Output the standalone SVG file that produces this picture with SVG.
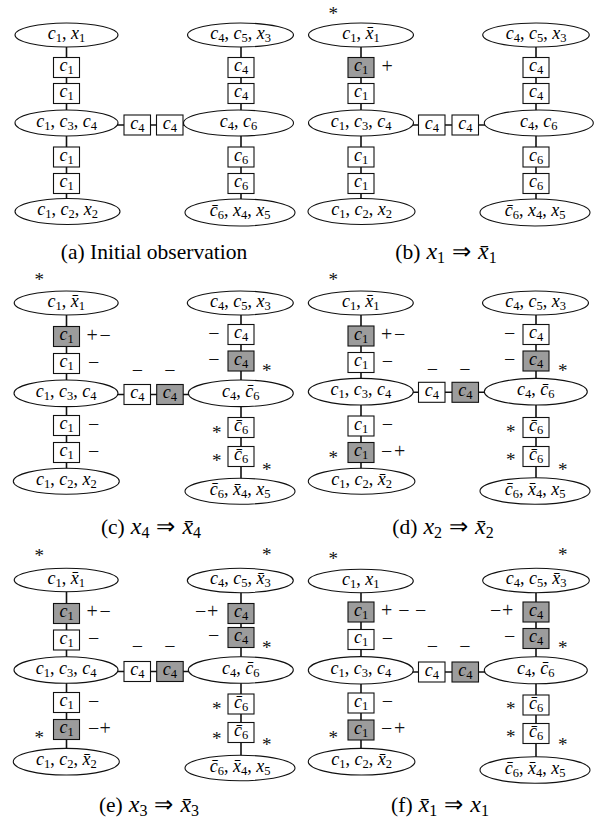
<svg xmlns="http://www.w3.org/2000/svg" width="599" height="820" viewBox="0 0 599 820">
<style>
.bg{fill:#fff}
.el{fill:#fff;stroke:#111;stroke-width:1.1}
.bx{fill:#fff;stroke:#111;stroke-width:1.1}
.g{fill:#9c9c9c}
.cn path{stroke:#111;stroke-width:1.6;fill:none}
.lb{font-family:'Liberation Serif',serif;font-size:18px;text-anchor:middle;fill:#000}
.i{font-style:italic}
.s{font-size:12.5px;font-style:normal}
.sg{font-family:'Liberation Serif',serif;font-size:20px;fill:#111}
.sm{font-family:'Liberation Serif',serif;font-size:20px;fill:#111;text-anchor:middle}
.as{font-family:'Liberation Serif',serif;font-size:19px;fill:#111;text-anchor:middle}
.cap{font-family:'Liberation Serif',serif;font-size:21.5px;text-anchor:middle;fill:#000}
.cm{font-size:24px;font-style:italic}
.ca{font-size:23px}
.cs{font-size:16px;font-style:normal}
</style>
<rect class="bg" x="0" y="0" width="599" height="820"/>

<g id="connectors" class="cn">
<g id="a-conn">
<path d="M66.5 35V67.5"/><path d="M66.5 67.5V93.5"/><path d="M66.5 93.5V123"/><path d="M66.5 123V157"/><path d="M66.5 157V183.5"/><path d="M66.5 183.5V211.5"/>
<path d="M66.5 125H137.25"/><path d="M137.25 125H169.75"/><path d="M169.75 125H238.5"/>
<path d="M241 35V67.5"/><path d="M241 67.5V93.5"/><path d="M241 93.5V123"/><path d="M241 123V157"/><path d="M241 157V183.5"/><path d="M241 183.5V212.5"/>
</g>
<g id="b-conn">
<path d="M361 35V67.5"/><path d="M361 67.5V93.5"/><path d="M361 93.5V123"/><path d="M361 123V157"/><path d="M361 157V183.5"/><path d="M361 183.5V211.5"/>
<path d="M361 125H431.75"/><path d="M431.75 125H465.25"/><path d="M465.25 125H538.8"/>
<path d="M536 35V67.5"/><path d="M536 67.5V93.5"/><path d="M536 93.5V123"/><path d="M536 123V157"/><path d="M536 157V183.5"/><path d="M536 183.5V212.5"/>
</g>
<g id="c-conn">
<path d="M66.5 303V336.5"/><path d="M66.5 336.5V363.5"/><path d="M66.5 363.5V393.3"/><path d="M66.5 393.3V425.5"/><path d="M66.5 425.5V452.5"/><path d="M66.5 452.5V481.3"/>
<path d="M66.5 394.5H137.25"/><path d="M137.25 394.5H169.95"/><path d="M169.95 394.5H240.8"/>
<path d="M241 303V334.5"/><path d="M241 334.5V361"/><path d="M241 361V393.3"/><path d="M241 393.3V427.5"/><path d="M241 427.5V456.5"/><path d="M241 456.5V491.3"/>
</g>
<g id="d-conn">
<path d="M361 303V336"/><path d="M361 336V362.5"/><path d="M361 362.5V391.7"/><path d="M361 391.7V426"/><path d="M361 426V452.5"/><path d="M361 452.5V481.3"/>
<path d="M361 392.3H431.75"/><path d="M431.75 392.3H465.25"/><path d="M465.25 392.3H535.8"/>
<path d="M536 303V334.5"/><path d="M536 334.5V361"/><path d="M536 361V391.7"/><path d="M536 391.7V427.5"/><path d="M536 427.5V456.5"/><path d="M536 456.5V491"/>
</g>
<g id="e-conn">
<path d="M66.5 580V613.5"/><path d="M66.5 613.5V640"/><path d="M66.5 640V670"/><path d="M66.5 670V702.5"/><path d="M66.5 702.5V729.5"/><path d="M66.5 729.5V761.7"/>
<path d="M66.5 671.5H137.25"/><path d="M137.25 671.5H169.95"/><path d="M169.95 671.5H240.8"/>
<path d="M241 580.5V613.5"/><path d="M241 613.5V637.5"/><path d="M241 637.5V670"/><path d="M241 670V704"/><path d="M241 704V732.5"/><path d="M241 732.5V768"/>
</g>
<g id="f-conn">
<path d="M361 581V612"/><path d="M361 612V639.5"/><path d="M361 639.5V670.3"/><path d="M361 670.3V703"/><path d="M361 703V730"/><path d="M361 730V761.7"/>
<path d="M361 672H431.75"/><path d="M431.75 672H465.25"/><path d="M465.25 672H535.8"/>
<path d="M536 580.5V612"/><path d="M536 612V638.5"/><path d="M536 638.5V670.3"/><path d="M536 670.3V705"/><path d="M536 705V733.5"/><path d="M536 733.5V770"/>
</g>
</g>

<!-- Panel a -->
<g id="panel-a">
<g id="a-TL"><ellipse class="el" cx="66.5" cy="35" rx="51.5" ry="12"/><text class="lb" x="66.5" y="38.5"><tspan class="i">c</tspan><tspan class="s" dy="3">1</tspan><tspan dy="-3">, </tspan><tspan class="i">x</tspan><tspan class="s" dy="3">1</tspan></text></g>
<g id="a-L1"><rect class="bx" x="53.5" y="57.5" width="26" height="20"/><text class="lb" x="66.5" y="71"><tspan class="i">c</tspan><tspan class="s" dy="3">1</tspan></text></g>
<g id="a-L2"><rect class="bx" x="53.5" y="83.5" width="26" height="20"/><text class="lb" x="66.5" y="97"><tspan class="i">c</tspan><tspan class="s" dy="3">1</tspan></text></g>
<g id="a-ML"><ellipse class="el" cx="66.5" cy="123" rx="51.5" ry="13"/><text class="lb" x="66.5" y="126.5"><tspan class="i">c</tspan><tspan class="s" dy="3">1</tspan><tspan dy="-3">, </tspan><tspan class="i">c</tspan><tspan class="s" dy="3">3</tspan><tspan dy="-3">, </tspan><tspan class="i">c</tspan><tspan class="s" dy="3">4</tspan></text></g>
<g id="a-L3"><rect class="bx" x="53.5" y="147" width="26" height="20"/><text class="lb" x="66.5" y="160.5"><tspan class="i">c</tspan><tspan class="s" dy="3">1</tspan></text></g>
<g id="a-L4"><rect class="bx" x="53.5" y="173.5" width="26" height="20"/><text class="lb" x="66.5" y="187"><tspan class="i">c</tspan><tspan class="s" dy="3">1</tspan></text></g>
<g id="a-BL"><ellipse class="el" cx="67.5" cy="211.5" rx="52.5" ry="13"/><text class="lb" x="67.5" y="215"><tspan class="i">c</tspan><tspan class="s" dy="3">1</tspan><tspan dy="-3">, </tspan><tspan class="i">c</tspan><tspan class="s" dy="3">2</tspan><tspan dy="-3">, </tspan><tspan class="i">x</tspan><tspan class="s" dy="3">2</tspan></text></g>
<g id="a-H1"><rect class="bx" x="124" y="115" width="26.5" height="20"/><text class="lb" x="137.25" y="128.5"><tspan class="i">c</tspan><tspan class="s" dy="3">4</tspan></text></g>
<g id="a-H2"><rect class="bx" x="156.5" y="115" width="26.5" height="20"/><text class="lb" x="169.75" y="128.5"><tspan class="i">c</tspan><tspan class="s" dy="3">4</tspan></text></g>
<g id="a-RT"><ellipse class="el" cx="240.5" cy="35" rx="53" ry="12"/><text class="lb" x="240.5" y="38.5"><tspan class="i">c</tspan><tspan class="s" dy="3">4</tspan><tspan dy="-3">, </tspan><tspan class="i">c</tspan><tspan class="s" dy="3">5</tspan><tspan dy="-3">, </tspan><tspan class="i">x</tspan><tspan class="s" dy="3">3</tspan></text></g>
<g id="a-R1"><rect class="bx" x="228" y="57.5" width="26" height="20"/><text class="lb" x="241" y="71"><tspan class="i">c</tspan><tspan class="s" dy="3">4</tspan></text></g>
<g id="a-R2"><rect class="bx" x="228" y="83.5" width="26" height="20"/><text class="lb" x="241" y="97"><tspan class="i">c</tspan><tspan class="s" dy="3">4</tspan></text></g>
<g id="a-RM"><ellipse class="el" cx="238.5" cy="123" rx="55" ry="13"/><text class="lb" x="238.5" y="126.5"><tspan class="i">c</tspan><tspan class="s" dy="3">4</tspan><tspan dy="-3">, </tspan><tspan class="i">c</tspan><tspan class="s" dy="3">6</tspan></text></g>
<g id="a-R3"><rect class="bx" x="228" y="147" width="26" height="20"/><text class="lb" x="241" y="160.5"><tspan class="i">c</tspan><tspan class="s" dy="3">6</tspan></text></g>
<g id="a-R4"><rect class="bx" x="228" y="173.5" width="26" height="20"/><text class="lb" x="241" y="187"><tspan class="i">c</tspan><tspan class="s" dy="3">6</tspan></text></g>
<g id="a-BR"><ellipse class="el" cx="240" cy="212.5" rx="55" ry="13.5"/><text class="lb" x="240" y="216"><tspan class="i">c&#x304;</tspan><tspan class="s" dy="3">6</tspan><tspan dy="-3">, </tspan><tspan class="i">x</tspan><tspan class="s" dy="3">4</tspan><tspan dy="-3">, </tspan><tspan class="i">x</tspan><tspan class="s" dy="3">5</tspan></text></g>
</g>

<!-- Panel b -->
<g id="panel-b">
<g id="b-TL"><ellipse class="el" cx="361" cy="35" rx="52.5" ry="12"/><text class="lb" x="361" y="38.5"><tspan class="i">c</tspan><tspan class="s" dy="3">1</tspan><tspan dy="-3">, </tspan><tspan class="i">x&#x304;</tspan><tspan class="s" dy="3">1</tspan></text></g>
<g id="b-L1"><rect class="bx g" x="348" y="57.5" width="26" height="20"/><text class="lb" x="361" y="71"><tspan class="i">c</tspan><tspan class="s" dy="3">1</tspan></text></g>
<g id="b-L2"><rect class="bx" x="348" y="83.5" width="26" height="20"/><text class="lb" x="361" y="97"><tspan class="i">c</tspan><tspan class="s" dy="3">1</tspan></text></g>
<g id="b-ML"><ellipse class="el" cx="361" cy="123" rx="52.5" ry="13"/><text class="lb" x="361" y="126.5"><tspan class="i">c</tspan><tspan class="s" dy="3">1</tspan><tspan dy="-3">, </tspan><tspan class="i">c</tspan><tspan class="s" dy="3">3</tspan><tspan dy="-3">, </tspan><tspan class="i">c</tspan><tspan class="s" dy="3">4</tspan></text></g>
<g id="b-L3"><rect class="bx" x="348" y="147" width="26" height="20"/><text class="lb" x="361" y="160.5"><tspan class="i">c</tspan><tspan class="s" dy="3">1</tspan></text></g>
<g id="b-L4"><rect class="bx" x="348" y="173.5" width="26" height="20"/><text class="lb" x="361" y="187"><tspan class="i">c</tspan><tspan class="s" dy="3">1</tspan></text></g>
<g id="b-BL"><ellipse class="el" cx="361.5" cy="211.5" rx="53.5" ry="13"/><text class="lb" x="361.5" y="215"><tspan class="i">c</tspan><tspan class="s" dy="3">1</tspan><tspan dy="-3">, </tspan><tspan class="i">c</tspan><tspan class="s" dy="3">2</tspan><tspan dy="-3">, </tspan><tspan class="i">x</tspan><tspan class="s" dy="3">2</tspan></text></g>
<g id="b-H1"><rect class="bx" x="418.5" y="115" width="26.5" height="20"/><text class="lb" x="431.75" y="128.5"><tspan class="i">c</tspan><tspan class="s" dy="3">4</tspan></text></g>
<g id="b-H2"><rect class="bx" x="452" y="115" width="26.5" height="20"/><text class="lb" x="465.25" y="128.5"><tspan class="i">c</tspan><tspan class="s" dy="3">4</tspan></text></g>
<g id="b-RT"><ellipse class="el" cx="536" cy="35" rx="53.3" ry="12"/><text class="lb" x="536" y="38.5"><tspan class="i">c</tspan><tspan class="s" dy="3">4</tspan><tspan dy="-3">, </tspan><tspan class="i">c</tspan><tspan class="s" dy="3">5</tspan><tspan dy="-3">, </tspan><tspan class="i">x</tspan><tspan class="s" dy="3">3</tspan></text></g>
<g id="b-R1"><rect class="bx" x="523" y="57.5" width="26" height="20"/><text class="lb" x="536" y="71"><tspan class="i">c</tspan><tspan class="s" dy="3">4</tspan></text></g>
<g id="b-R2"><rect class="bx" x="523" y="83.5" width="26" height="20"/><text class="lb" x="536" y="97"><tspan class="i">c</tspan><tspan class="s" dy="3">4</tspan></text></g>
<g id="b-RM"><ellipse class="el" cx="538.8" cy="123" rx="54.5" ry="13"/><text class="lb" x="538.8" y="126.5"><tspan class="i">c</tspan><tspan class="s" dy="3">4</tspan><tspan dy="-3">, </tspan><tspan class="i">c</tspan><tspan class="s" dy="3">6</tspan></text></g>
<g id="b-R3"><rect class="bx" x="523" y="147" width="26" height="20"/><text class="lb" x="536" y="160.5"><tspan class="i">c</tspan><tspan class="s" dy="3">6</tspan></text></g>
<g id="b-R4"><rect class="bx" x="523" y="173.5" width="26" height="20"/><text class="lb" x="536" y="187"><tspan class="i">c</tspan><tspan class="s" dy="3">6</tspan></text></g>
<g id="b-BR"><ellipse class="el" cx="535" cy="212.5" rx="55" ry="13.5"/><text class="lb" x="535" y="216"><tspan class="i">c&#x304;</tspan><tspan class="s" dy="3">6</tspan><tspan dy="-3">, </tspan><tspan class="i">x</tspan><tspan class="s" dy="3">4</tspan><tspan dy="-3">, </tspan><tspan class="i">x</tspan><tspan class="s" dy="3">5</tspan></text></g>
<g id="b-marks"><text class="as" x="333.3" y="19.5">*</text><text class="sg" x="381.5" y="73">+</text></g>
</g>

<!-- Panel c -->
<g id="panel-c">
<g id="c-TL"><ellipse class="el" cx="66.2" cy="303" rx="52" ry="12"/><text class="lb" x="66.2" y="306.5"><tspan class="i">c</tspan><tspan class="s" dy="3">1</tspan><tspan dy="-3">, </tspan><tspan class="i">x&#x304;</tspan><tspan class="s" dy="3">1</tspan></text></g>
<g id="c-L1"><rect class="bx g" x="53.5" y="326.5" width="26" height="20"/><text class="lb" x="66.5" y="340"><tspan class="i">c</tspan><tspan class="s" dy="3">1</tspan></text></g>
<g id="c-L2"><rect class="bx" x="53.5" y="353.5" width="26" height="20"/><text class="lb" x="66.5" y="367"><tspan class="i">c</tspan><tspan class="s" dy="3">1</tspan></text></g>
<g id="c-ML"><ellipse class="el" cx="66" cy="393.3" rx="52" ry="13.3"/><text class="lb" x="66" y="396.8"><tspan class="i">c</tspan><tspan class="s" dy="3">1</tspan><tspan dy="-3">, </tspan><tspan class="i">c</tspan><tspan class="s" dy="3">3</tspan><tspan dy="-3">, </tspan><tspan class="i">c</tspan><tspan class="s" dy="3">4</tspan></text></g>
<g id="c-L3"><rect class="bx" x="53.5" y="415.5" width="26" height="20"/><text class="lb" x="66.5" y="429"><tspan class="i">c</tspan><tspan class="s" dy="3">1</tspan></text></g>
<g id="c-L4"><rect class="bx" x="53.5" y="442.5" width="26" height="20"/><text class="lb" x="66.5" y="456"><tspan class="i">c</tspan><tspan class="s" dy="3">1</tspan></text></g>
<g id="c-BL"><ellipse class="el" cx="66.3" cy="481.3" rx="53" ry="13"/><text class="lb" x="66.3" y="484.8"><tspan class="i">c</tspan><tspan class="s" dy="3">1</tspan><tspan dy="-3">, </tspan><tspan class="i">c</tspan><tspan class="s" dy="3">2</tspan><tspan dy="-3">, </tspan><tspan class="i">x</tspan><tspan class="s" dy="3">2</tspan></text></g>
<g id="c-H1"><rect class="bx" x="124" y="384.5" width="26.5" height="20"/><text class="lb" x="137.25" y="398"><tspan class="i">c</tspan><tspan class="s" dy="3">4</tspan></text></g>
<g id="c-H2"><rect class="bx g" x="156.7" y="384.5" width="26.5" height="20"/><text class="lb" x="169.95" y="398"><tspan class="i">c</tspan><tspan class="s" dy="3">4</tspan></text></g>
<g id="c-RT"><ellipse class="el" cx="240.3" cy="303" rx="53" ry="12"/><text class="lb" x="240.3" y="306.5"><tspan class="i">c</tspan><tspan class="s" dy="3">4</tspan><tspan dy="-3">, </tspan><tspan class="i">c</tspan><tspan class="s" dy="3">5</tspan><tspan dy="-3">, </tspan><tspan class="i">x</tspan><tspan class="s" dy="3">3</tspan></text></g>
<g id="c-R1"><rect class="bx" x="228" y="324.5" width="26" height="20"/><text class="lb" x="241" y="338"><tspan class="i">c</tspan><tspan class="s" dy="3">4</tspan></text></g>
<g id="c-R2"><rect class="bx g" x="228" y="351" width="26" height="20"/><text class="lb" x="241" y="364.5"><tspan class="i">c</tspan><tspan class="s" dy="3">4</tspan></text></g>
<g id="c-RM"><ellipse class="el" cx="240.8" cy="393.3" rx="52.5" ry="13.3"/><text class="lb" x="240.8" y="396.8"><tspan class="i">c</tspan><tspan class="s" dy="3">4</tspan><tspan dy="-3">, </tspan><tspan class="i">c&#x304;</tspan><tspan class="s" dy="3">6</tspan></text></g>
<g id="c-R3"><rect class="bx" x="228" y="417.5" width="26" height="20"/><text class="lb" x="241" y="431"><tspan class="i">c&#x304;</tspan><tspan class="s" dy="3">6</tspan></text></g>
<g id="c-R4"><rect class="bx" x="228" y="446.5" width="26" height="20"/><text class="lb" x="241" y="460"><tspan class="i">c&#x304;</tspan><tspan class="s" dy="3">6</tspan></text></g>
<g id="c-BR"><ellipse class="el" cx="240" cy="491.3" rx="55" ry="13"/><text class="lb" x="240" y="494.8"><tspan class="i">c&#x304;</tspan><tspan class="s" dy="3">6</tspan><tspan dy="-3">, </tspan><tspan class="i">x&#x304;</tspan><tspan class="s" dy="3">4</tspan><tspan dy="-3">, </tspan><tspan class="i">x</tspan><tspan class="s" dy="3">5</tspan></text></g>
<g id="c-marks">
<text class="as" x="39.3" y="286.2">*</text>
<text class="sg" x="86.5 99.5" y="341.5">+−</text>
<text class="sg" x="88" y="368.5">−</text>
<text class="sm" x="137.5" y="376.7">−</text><text class="sm" x="170" y="376.7">−</text>
<text class="sg" x="208.3" y="339.5">−</text>
<text class="sg" x="208.3" y="366">−</text>
<text class="as" x="266.7" y="377.2">*</text>
<text class="as" x="216.7" y="438.5">*</text>
<text class="as" x="216.7" y="467.2">*</text>
<text class="as" x="266.7" y="476">*</text>
<text class="sg" x="88" y="430.5">−</text>
<text class="sg" x="88" y="457.5">−</text>
</g>
</g>

<!-- Panel d -->
<g id="panel-d">
<g id="d-TL"><ellipse class="el" cx="360.8" cy="303" rx="52.5" ry="12"/><text class="lb" x="360.8" y="306.5"><tspan class="i">c</tspan><tspan class="s" dy="3">1</tspan><tspan dy="-3">, </tspan><tspan class="i">x&#x304;</tspan><tspan class="s" dy="3">1</tspan></text></g>
<g id="d-L1"><rect class="bx g" x="348" y="326" width="26" height="20"/><text class="lb" x="361" y="339.5"><tspan class="i">c</tspan><tspan class="s" dy="3">1</tspan></text></g>
<g id="d-L2"><rect class="bx" x="348" y="352.5" width="26" height="20"/><text class="lb" x="361" y="366"><tspan class="i">c</tspan><tspan class="s" dy="3">1</tspan></text></g>
<g id="d-ML"><ellipse class="el" cx="360.8" cy="391.7" rx="52.5" ry="13.3"/><text class="lb" x="360.8" y="395.2"><tspan class="i">c</tspan><tspan class="s" dy="3">1</tspan><tspan dy="-3">, </tspan><tspan class="i">c</tspan><tspan class="s" dy="3">3</tspan><tspan dy="-3">, </tspan><tspan class="i">c</tspan><tspan class="s" dy="3">4</tspan></text></g>
<g id="d-L3"><rect class="bx" x="348" y="416" width="26" height="20"/><text class="lb" x="361" y="429.5"><tspan class="i">c</tspan><tspan class="s" dy="3">1</tspan></text></g>
<g id="d-L4"><rect class="bx g" x="348" y="442.5" width="26" height="20"/><text class="lb" x="361" y="456"><tspan class="i">c</tspan><tspan class="s" dy="3">1</tspan></text></g>
<g id="d-BL"><ellipse class="el" cx="361.6" cy="481.3" rx="53.3" ry="13"/><text class="lb" x="361.6" y="484.8"><tspan class="i">c</tspan><tspan class="s" dy="3">1</tspan><tspan dy="-3">, </tspan><tspan class="i">c</tspan><tspan class="s" dy="3">2</tspan><tspan dy="-3">, </tspan><tspan class="i">x&#x304;</tspan><tspan class="s" dy="3">2</tspan></text></g>
<g id="d-H1"><rect class="bx" x="418.5" y="382.3" width="26.5" height="20"/><text class="lb" x="431.75" y="395.8"><tspan class="i">c</tspan><tspan class="s" dy="3">4</tspan></text></g>
<g id="d-H2"><rect class="bx g" x="452" y="382.3" width="26.5" height="20"/><text class="lb" x="465.25" y="395.8"><tspan class="i">c</tspan><tspan class="s" dy="3">4</tspan></text></g>
<g id="d-RT"><ellipse class="el" cx="535.5" cy="303" rx="53" ry="12"/><text class="lb" x="535.5" y="306.5"><tspan class="i">c</tspan><tspan class="s" dy="3">4</tspan><tspan dy="-3">, </tspan><tspan class="i">c</tspan><tspan class="s" dy="3">5</tspan><tspan dy="-3">, </tspan><tspan class="i">x</tspan><tspan class="s" dy="3">3</tspan></text></g>
<g id="d-R1"><rect class="bx" x="523" y="324.5" width="26" height="20"/><text class="lb" x="536" y="338"><tspan class="i">c</tspan><tspan class="s" dy="3">4</tspan></text></g>
<g id="d-R2"><rect class="bx g" x="523" y="351" width="26" height="20"/><text class="lb" x="536" y="364.5"><tspan class="i">c</tspan><tspan class="s" dy="3">4</tspan></text></g>
<g id="d-RM"><ellipse class="el" cx="535.8" cy="391.7" rx="51.5" ry="13.3"/><text class="lb" x="535.8" y="395.2"><tspan class="i">c</tspan><tspan class="s" dy="3">4</tspan><tspan dy="-3">, </tspan><tspan class="i">c&#x304;</tspan><tspan class="s" dy="3">6</tspan></text></g>
<g id="d-R3"><rect class="bx" x="523" y="417.5" width="26" height="20"/><text class="lb" x="536" y="431"><tspan class="i">c&#x304;</tspan><tspan class="s" dy="3">6</tspan></text></g>
<g id="d-R4"><rect class="bx" x="523" y="446.5" width="26" height="20"/><text class="lb" x="536" y="460"><tspan class="i">c&#x304;</tspan><tspan class="s" dy="3">6</tspan></text></g>
<g id="d-BR"><ellipse class="el" cx="535" cy="491" rx="55" ry="13.3"/><text class="lb" x="535" y="494.5"><tspan class="i">c&#x304;</tspan><tspan class="s" dy="3">6</tspan><tspan dy="-3">, </tspan><tspan class="i">x&#x304;</tspan><tspan class="s" dy="3">4</tspan><tspan dy="-3">, </tspan><tspan class="i">x</tspan><tspan class="s" dy="3">5</tspan></text></g>
<g id="d-marks">
<text class="as" x="333.3" y="286.2">*</text>
<text class="sg" x="381 394" y="341">+−</text>
<text class="sg" x="381.7" y="367.5">−</text>
<text class="sm" x="432.5" y="376">−</text><text class="sm" x="465" y="376">−</text>
<text class="sg" x="504" y="339.5">−</text>
<text class="sg" x="504" y="366">−</text>
<text class="as" x="562.7" y="377.2">*</text>
<text class="as" x="510.7" y="437.5">*</text>
<text class="as" x="510.7" y="466.2">*</text>
<text class="as" x="562.7" y="475.5">*</text>
<text class="sg" x="381.7" y="431">−</text>
<text class="sg" x="381 394" y="457.5">−+</text>
<text class="as" x="333.3" y="464">*</text>
</g>
</g>

<!-- Panel e -->
<g id="panel-e">
<g id="e-TL"><ellipse class="el" cx="66.2" cy="580" rx="52" ry="11.7"/><text class="lb" x="66.2" y="583.5"><tspan class="i">c</tspan><tspan class="s" dy="3">1</tspan><tspan dy="-3">, </tspan><tspan class="i">x&#x304;</tspan><tspan class="s" dy="3">1</tspan></text></g>
<g id="e-L1"><rect class="bx g" x="53.5" y="603.5" width="26" height="20"/><text class="lb" x="66.5" y="617"><tspan class="i">c</tspan><tspan class="s" dy="3">1</tspan></text></g>
<g id="e-L2"><rect class="bx" x="53.5" y="630" width="26" height="20"/><text class="lb" x="66.5" y="643.5"><tspan class="i">c</tspan><tspan class="s" dy="3">1</tspan></text></g>
<g id="e-ML"><ellipse class="el" cx="66" cy="670" rx="52" ry="13.3"/><text class="lb" x="66" y="673.5"><tspan class="i">c</tspan><tspan class="s" dy="3">1</tspan><tspan dy="-3">, </tspan><tspan class="i">c</tspan><tspan class="s" dy="3">3</tspan><tspan dy="-3">, </tspan><tspan class="i">c</tspan><tspan class="s" dy="3">4</tspan></text></g>
<g id="e-L3"><rect class="bx" x="53.5" y="692.5" width="26" height="20"/><text class="lb" x="66.5" y="706"><tspan class="i">c</tspan><tspan class="s" dy="3">1</tspan></text></g>
<g id="e-L4"><rect class="bx g" x="53.5" y="719.5" width="26" height="20"/><text class="lb" x="66.5" y="733"><tspan class="i">c</tspan><tspan class="s" dy="3">1</tspan></text></g>
<g id="e-BL"><ellipse class="el" cx="66.3" cy="761.7" rx="53" ry="13.3"/><text class="lb" x="66.3" y="765.2"><tspan class="i">c</tspan><tspan class="s" dy="3">1</tspan><tspan dy="-3">, </tspan><tspan class="i">c</tspan><tspan class="s" dy="3">2</tspan><tspan dy="-3">, </tspan><tspan class="i">x&#x304;</tspan><tspan class="s" dy="3">2</tspan></text></g>
<g id="e-H1"><rect class="bx" x="124" y="661.5" width="26.5" height="20"/><text class="lb" x="137.25" y="675"><tspan class="i">c</tspan><tspan class="s" dy="3">4</tspan></text></g>
<g id="e-H2"><rect class="bx g" x="156.7" y="661.5" width="26.5" height="20"/><text class="lb" x="169.95" y="675"><tspan class="i">c</tspan><tspan class="s" dy="3">4</tspan></text></g>
<g id="e-RT"><ellipse class="el" cx="240.3" cy="580.5" rx="53" ry="12.2"/><text class="lb" x="240.3" y="584"><tspan class="i">c</tspan><tspan class="s" dy="3">4</tspan><tspan dy="-3">, </tspan><tspan class="i">c</tspan><tspan class="s" dy="3">5</tspan><tspan dy="-3">, </tspan><tspan class="i">x&#x304;</tspan><tspan class="s" dy="3">3</tspan></text></g>
<g id="e-R1"><rect class="bx g" x="228" y="603.5" width="26" height="20"/><text class="lb" x="241" y="617"><tspan class="i">c</tspan><tspan class="s" dy="3">4</tspan></text></g>
<g id="e-R2"><rect class="bx g" x="228" y="627.5" width="26" height="20"/><text class="lb" x="241" y="641"><tspan class="i">c</tspan><tspan class="s" dy="3">4</tspan></text></g>
<g id="e-RM"><ellipse class="el" cx="240.8" cy="670" rx="52.5" ry="13.3"/><text class="lb" x="240.8" y="673.5"><tspan class="i">c</tspan><tspan class="s" dy="3">4</tspan><tspan dy="-3">, </tspan><tspan class="i">c&#x304;</tspan><tspan class="s" dy="3">6</tspan></text></g>
<g id="e-R3"><rect class="bx" x="228" y="694" width="26" height="20"/><text class="lb" x="241" y="707.5"><tspan class="i">c&#x304;</tspan><tspan class="s" dy="3">6</tspan></text></g>
<g id="e-R4"><rect class="bx" x="228" y="722.5" width="26" height="20"/><text class="lb" x="241" y="736"><tspan class="i">c&#x304;</tspan><tspan class="s" dy="3">6</tspan></text></g>
<g id="e-BR"><ellipse class="el" cx="240" cy="768" rx="55" ry="12.8"/><text class="lb" x="240" y="771.5"><tspan class="i">c&#x304;</tspan><tspan class="s" dy="3">6</tspan><tspan dy="-3">, </tspan><tspan class="i">x&#x304;</tspan><tspan class="s" dy="3">4</tspan><tspan dy="-3">, </tspan><tspan class="i">x</tspan><tspan class="s" dy="3">5</tspan></text></g>
<g id="e-marks">
<text class="as" x="39.3" y="562.2">*</text>
<text class="as" x="266.7" y="561.2">*</text>
<text class="sg" x="86.5 99.5" y="618.3">+−</text>
<text class="sg" x="88" y="645">−</text>
<text class="sm" x="137.5" y="653.3">−</text><text class="sm" x="170" y="653.3">−</text>
<text class="sg" x="195 207" y="618">−+</text>
<text class="sg" x="208" y="642">−</text>
<text class="as" x="266.7" y="653.5">*</text>
<text class="as" x="216.7" y="715.2">*</text>
<text class="as" x="216.7" y="744.5">*</text>
<text class="as" x="266.7" y="751.2">*</text>
<text class="sg" x="88" y="707.5">−</text>
<text class="sg" x="88 99.5" y="734.5">−+</text>
<text class="as" x="39.3" y="744">*</text>
</g>
</g>

<!-- Panel f -->
<g id="panel-f">
<g id="f-TL"><ellipse class="el" cx="360.8" cy="581" rx="52.5" ry="11.7"/><text class="lb" x="360.8" y="584.5"><tspan class="i">c</tspan><tspan class="s" dy="3">1</tspan><tspan dy="-3">, </tspan><tspan class="i">x</tspan><tspan class="s" dy="3">1</tspan></text></g>
<g id="f-L1"><rect class="bx g" x="348" y="602" width="26" height="20"/><text class="lb" x="361" y="615.5"><tspan class="i">c</tspan><tspan class="s" dy="3">1</tspan></text></g>
<g id="f-L2"><rect class="bx" x="348" y="629.5" width="26" height="20"/><text class="lb" x="361" y="643"><tspan class="i">c</tspan><tspan class="s" dy="3">1</tspan></text></g>
<g id="f-ML"><ellipse class="el" cx="360.8" cy="670.3" rx="52.5" ry="13.7"/><text class="lb" x="360.8" y="673.8"><tspan class="i">c</tspan><tspan class="s" dy="3">1</tspan><tspan dy="-3">, </tspan><tspan class="i">c</tspan><tspan class="s" dy="3">3</tspan><tspan dy="-3">, </tspan><tspan class="i">c</tspan><tspan class="s" dy="3">4</tspan></text></g>
<g id="f-L3"><rect class="bx" x="348" y="693" width="26" height="20"/><text class="lb" x="361" y="706.5"><tspan class="i">c</tspan><tspan class="s" dy="3">1</tspan></text></g>
<g id="f-L4"><rect class="bx g" x="348" y="720" width="26" height="20"/><text class="lb" x="361" y="733.5"><tspan class="i">c</tspan><tspan class="s" dy="3">1</tspan></text></g>
<g id="f-BL"><ellipse class="el" cx="361.6" cy="761.7" rx="53.3" ry="13.3"/><text class="lb" x="361.6" y="765.2"><tspan class="i">c</tspan><tspan class="s" dy="3">1</tspan><tspan dy="-3">, </tspan><tspan class="i">c</tspan><tspan class="s" dy="3">2</tspan><tspan dy="-3">, </tspan><tspan class="i">x&#x304;</tspan><tspan class="s" dy="3">2</tspan></text></g>
<g id="f-H1"><rect class="bx" x="418.5" y="662" width="26.5" height="20"/><text class="lb" x="431.75" y="675.5"><tspan class="i">c</tspan><tspan class="s" dy="3">4</tspan></text></g>
<g id="f-H2"><rect class="bx g" x="452" y="662" width="26.5" height="20"/><text class="lb" x="465.25" y="675.5"><tspan class="i">c</tspan><tspan class="s" dy="3">4</tspan></text></g>
<g id="f-RT"><ellipse class="el" cx="536" cy="580.5" rx="53.3" ry="12.2"/><text class="lb" x="536" y="584"><tspan class="i">c</tspan><tspan class="s" dy="3">4</tspan><tspan dy="-3">, </tspan><tspan class="i">c</tspan><tspan class="s" dy="3">5</tspan><tspan dy="-3">, </tspan><tspan class="i">x&#x304;</tspan><tspan class="s" dy="3">3</tspan></text></g>
<g id="f-R1"><rect class="bx g" x="523" y="602" width="26" height="20"/><text class="lb" x="536" y="615.5"><tspan class="i">c</tspan><tspan class="s" dy="3">4</tspan></text></g>
<g id="f-R2"><rect class="bx g" x="523" y="628.5" width="26" height="20"/><text class="lb" x="536" y="642"><tspan class="i">c</tspan><tspan class="s" dy="3">4</tspan></text></g>
<g id="f-RM"><ellipse class="el" cx="535.8" cy="670.3" rx="51.5" ry="13.5"/><text class="lb" x="535.8" y="673.8"><tspan class="i">c</tspan><tspan class="s" dy="3">4</tspan><tspan dy="-3">, </tspan><tspan class="i">c&#x304;</tspan><tspan class="s" dy="3">6</tspan></text></g>
<g id="f-R3"><rect class="bx" x="523" y="695" width="26" height="20"/><text class="lb" x="536" y="708.5"><tspan class="i">c&#x304;</tspan><tspan class="s" dy="3">6</tspan></text></g>
<g id="f-R4"><rect class="bx" x="523" y="723.5" width="26" height="20"/><text class="lb" x="536" y="737"><tspan class="i">c&#x304;</tspan><tspan class="s" dy="3">6</tspan></text></g>
<g id="f-BR"><ellipse class="el" cx="535" cy="770" rx="55" ry="13.3"/><text class="lb" x="535" y="773.5"><tspan class="i">c&#x304;</tspan><tspan class="s" dy="3">6</tspan><tspan dy="-3">, </tspan><tspan class="i">x&#x304;</tspan><tspan class="s" dy="3">4</tspan><tspan dy="-3">, </tspan><tspan class="i">x</tspan><tspan class="s" dy="3">5</tspan></text></g>
<g id="f-marks">
<text class="as" x="333.3" y="564.5">*</text>
<text class="as" x="562.7" y="561.2">*</text>
<text class="sg" x="381 398.3 415" y="617.3">+−−</text>
<text class="sg" x="381.7" y="644.5">−</text>
<text class="sm" x="432.5" y="653.3">−</text><text class="sm" x="465" y="653.3">−</text>
<text class="sg" x="490 502" y="616.7">−+</text>
<text class="sg" x="504" y="643.3">−</text>
<text class="as" x="562.7" y="653.5">*</text>
<text class="as" x="510.7" y="715.2">*</text>
<text class="as" x="510.7" y="742.8">*</text>
<text class="as" x="562.7" y="751.2">*</text>
<text class="sg" x="381.7" y="708">−</text>
<text class="sg" x="381 394" y="735">−+</text>
<text class="as" x="333.3" y="744">*</text>
</g>
</g>

<g id="captions">
<text class="cap" x="154" y="259">(a) Initial observation</text>
<text class="cap" x="446" y="259">(b)<tspan class="cm" dx="6">x</tspan><tspan class="cs" dy="4">1</tspan><tspan class="ca" dy="-4" dx="7">⇒</tspan><tspan class="cm" dx="7">x&#x304;</tspan><tspan class="cs" dy="4">1</tspan></text>
<text class="cap" x="151" y="534">(c)<tspan class="cm" dx="6">x</tspan><tspan class="cs" dy="4">4</tspan><tspan class="ca" dy="-4" dx="7">⇒</tspan><tspan class="cm" dx="7">x&#x304;</tspan><tspan class="cs" dy="4">4</tspan></text>
<text class="cap" x="443" y="534">(d)<tspan class="cm" dx="6">x</tspan><tspan class="cs" dy="4">2</tspan><tspan class="ca" dy="-4" dx="7">⇒</tspan><tspan class="cm" dx="7">x&#x304;</tspan><tspan class="cs" dy="4">2</tspan></text>
<text class="cap" x="149" y="812">(e)<tspan class="cm" dx="6">x</tspan><tspan class="cs" dy="4">3</tspan><tspan class="ca" dy="-4" dx="7">⇒</tspan><tspan class="cm" dx="7">x&#x304;</tspan><tspan class="cs" dy="4">3</tspan></text>
<text class="cap" x="440" y="812">(f)<tspan class="cm" dx="6">x&#x304;</tspan><tspan class="cs" dy="4">1</tspan><tspan class="ca" dy="-4" dx="7">⇒</tspan><tspan class="cm" dx="7">x</tspan><tspan class="cs" dy="4">1</tspan></text>
</g>
</svg>
